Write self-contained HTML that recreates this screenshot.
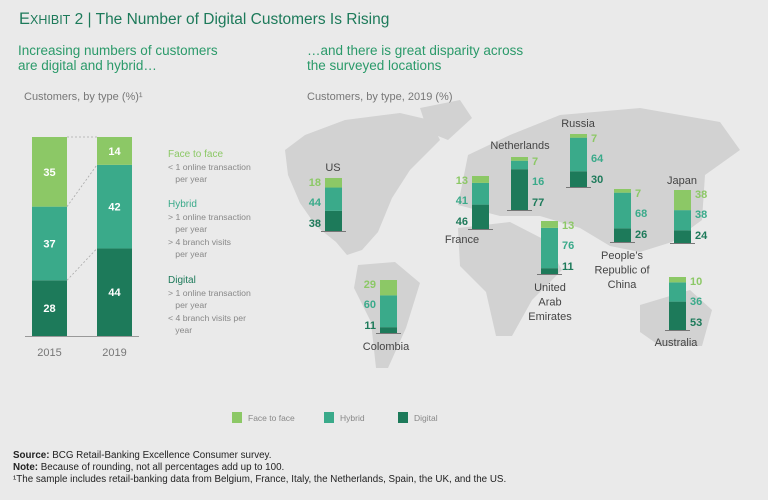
<!DOCTYPE html>
<html><head><meta charset="utf-8">
<style>
html,body{margin:0;padding:0;background:#eaeaea;}
body{width:768px;height:500px;position:relative;overflow:hidden;font-family:"Liberation Sans",sans-serif;}
svg{position:absolute;left:0;top:0;}
.def div{margin:0}
</style></head>
<body>
<svg id="chart" width="768" height="500" viewBox="0 0 768 500">
  <g id="map" fill="#d2d2d2">
    <path d="M285,150 L305,135 L345,120 L400,113 L430,120 L440,140 L410,170 L392,198 L378,232 L362,250 L347,255 L336,242 L316,226 L300,203 L288,175 Z"/>
    <path d="M420,108 L460,100 L472,118 L448,140 L428,132 Z"/>
    <path d="M358,265 L395,262 L420,283 L406,328 L388,368 L376,368 L371,322 L354,288 Z"/>
    <path d="M458,205 L468,155 L510,135 L560,115 L640,108 L720,122 L740,150 L705,175 L702,220 L672,242 L640,252 L610,246 L580,228 L540,216 L500,216 Z"/>
    <path d="M458,228 L510,222 L545,240 L562,270 L532,300 L512,336 L496,336 L486,292 L460,266 Z"/>
    <path d="M640,305 L690,290 L712,310 L702,346 L660,346 L640,332 Z"/>
  </g>
  <g id="left"></g>
  <g id="countries"></g>
  <g id="legend"></g>
</svg>
<div style="position:absolute;left:19px;top:10px;font-size:15.5px;color:#1d7a5a"><span style="font-size:16.5px">E</span><span style="font-size:12.5px">XHIBIT</span> 2 | The Number of Digital Customers Is Rising</div>
<div style="position:absolute;left:18px;top:43px;font-size:13.5px;line-height:15px;color:#2b9a6a">Increasing numbers of customers<br>are digital and hybrid…</div>
<div style="position:absolute;left:307px;top:43px;font-size:13.5px;line-height:15px;color:#2b9a6a">…and there is great disparity across<br>the surveyed locations</div>
<div style="position:absolute;left:24px;top:91px;font-size:11px;color:#777">Customers, by type (%)¹</div>
<div style="position:absolute;left:307px;top:91px;font-size:11px;color:#777">Customers, by type, 2019 (%)</div>
<div class="def" style="position:absolute;left:168px;top:148px;font-size:8.7px;line-height:11.5px;color:#888">
<div style="color:#8cc866;font-size:10px;line-height:14px">Face to face</div>
<div>&lt; 1 online transaction<br>&nbsp;&nbsp;&nbsp;per year</div>
<div style="color:#3aaa8a;font-size:10px;line-height:14px;margin-top:13px">Hybrid</div>
<div>&gt; 1 online transaction<br>&nbsp;&nbsp;&nbsp;per year</div>
<div style="margin-top:2px">&gt; 4 branch visits<br>&nbsp;&nbsp;&nbsp;per year</div>
<div style="color:#1d7a5a;font-size:10px;line-height:14px;margin-top:14px">Digital</div>
<div>&gt; 1 online transaction<br>&nbsp;&nbsp;&nbsp;per year</div>
<div style="margin-top:2px">&lt; 4 branch visits per<br>&nbsp;&nbsp;&nbsp;year</div>
</div>
<div style="position:absolute;left:13px;top:450px;font-size:9.8px;line-height:12px;color:#222">
<b>Source:</b> BCG Retail-Banking Excellence Consumer survey.<br><b>Note:</b> Because of rounding, not all percentages add up to 100.<br>¹The sample includes retail-banking data from Belgium, France, Italy, the Netherlands, Spain, the UK, and the US.</div>
<script>
const years = ["2015","2019"];
const digitalShare = [28,44];
const hybridShare = [37,42];
const faceShare = [35,14];

const countryNames = ["US","France","Netherlands","Russia","United Arab Emirates","People's Republic of China","Japan","Australia","Colombia"];
const countryFace = [18,13,7,7,13,7,38,10,29];
const countryHybrid = [44,41,16,64,76,68,38,36,60];
const countryDigital = [38,46,77,30,11,26,24,53,11];

const C = {face:"#8cc866", hyb:"#3aaa8a", dig:"#1d7a5a"};
const NS = "http://www.w3.org/2000/svg";
function mk(tag, attrs, parent){const e=document.createElementNS(NS,tag);for(const k in attrs)e.setAttribute(k,attrs[k]);parent.appendChild(e);return e;}
function txt(parent, x, y, s, size, fill, anchor, weight){const t=mk("text",{x:x,y:y,"font-size":size,fill:fill,"text-anchor":anchor||"middle","font-weight":weight||"normal","font-family":"Liberation Sans, sans-serif"},parent);t.textContent=s;return t;}

const L = document.getElementById("left");
const base = 336, H = 199, bw = 35;
const xBar = i => 32 + i*65;
const tops = [];
years.forEach((yr,i)=>{
  const tot = digitalShare[i]+hybridShare[i]+faceShare[i];
  const segs=[[digitalShare[i],C.dig,"digital"],[hybridShare[i],C.hyb,"hybrid"],[faceShare[i],C.face,"face-to-face"]];
  let y = base; const b=[];
  segs.forEach(s=>{
    const h = s[0]/tot*H;
    const r = mk("rect",{x:xBar(i),y:y-h,width:bw,height:h,fill:s[1]},L);
    
    
    const t = txt(L,xBar(i)+bw/2,y-h/2+4,String(s[0]),11,"#fff","middle","bold");
    
    
    y -= h; b.push(y);
  });
  tops.push(b);
  const yl = txt(L,xBar(i)+bw/2,356,yr,11,"#777");
  
  
});
for(let k=0;k<3;k++){
  const l = mk("line",{x1:xBar(0)+bw,y1:tops[0][k],x2:xBar(1),y2:tops[1][k],stroke:"#aaa","stroke-width":0.8,"stroke-dasharray":"2,2"},L);
  
  
}
const ax = mk("line",{x1:25,y1:base+0.5,x2:139,y2:base+0.5,stroke:"#999","stroke-width":1},L);



const layout = [
 {x:325,y:178,side:"L",nx:333,ny:171},
 {x:472,y:176,side:"L",nx:462,ny:243},
 {x:511,y:157,side:"R",nx:520,ny:149},
 {x:570,y:134,side:"R",nx:578,ny:127},
 {x:541,y:221,side:"R",nx:550,ny:291,lines:["United","Arab","Emirates"]},
 {x:614,y:189,side:"R",nx:622,ny:259,lines:["People’s","Republic of","China"]},
 {x:674,y:190,side:"R",nx:682,ny:184},
 {x:669,y:277,side:"R",nx:676,ny:346},
 {x:380,y:280,side:"L",nx:386,ny:350}
];
const G = document.getElementById("countries");
const ch = 53, cw = 17;
countryNames.forEach((n,i)=>{
  const p = layout[i];
  const vals=[[countryDigital[i],C.dig,"digital"],[countryHybrid[i],C.hyb,"hybrid"],[countryFace[i],C.face,"face-to-face"]];
  const tot = vals.reduce((a,v)=>a+v[0],0);
  let y = p.y+ch;
  const slug = n.toLowerCase().replace(/[^a-z]+/g,'-');
  vals.forEach(v=>{
    const h = v[0]/tot*ch;
    const r = mk("rect",{x:p.x,y:y-h,width:cw,height:h,fill:v[1]},G);
    
    
    y -= h;
  });
  const bl = mk("line",{x1:p.x-4,y1:p.y+ch+0.5,x2:p.x+cw+4,y2:p.y+ch+0.5,stroke:"#777","stroke-width":1},G);
  
  
  const lx = p.side==="L" ? p.x-4 : p.x+cw+4;
  const an = p.side==="L" ? "end" : "start";
  [[countryFace[i],C.face,p.y+8],[countryHybrid[i],C.hyb,p.y+28],[countryDigital[i],C.dig,p.y+49]].forEach((v,k)=>{
    const t = txt(G,lx,v[2],String(v[0]),11,v[1],an,"bold");
    
    
  });
  const lines = p.lines || [n];
  lines.forEach((s,k)=>{
    const t = txt(G,p.nx,p.ny+k*14.5,s,11,"#444");
    
    
  });
});

const LG = document.getElementById("legend");
[["Face to face",C.face,232],["Hybrid",C.hyb,324],["Digital",C.dig,398]].forEach(e=>{
  const r = mk("rect",{x:e[2],y:412,width:10,height:11,fill:e[1]},LG);
  
  
  const t = txt(LG,e[2]+16,421,e[0],8.5,"#888","start");
  
  
});
</script>
</body></html>
